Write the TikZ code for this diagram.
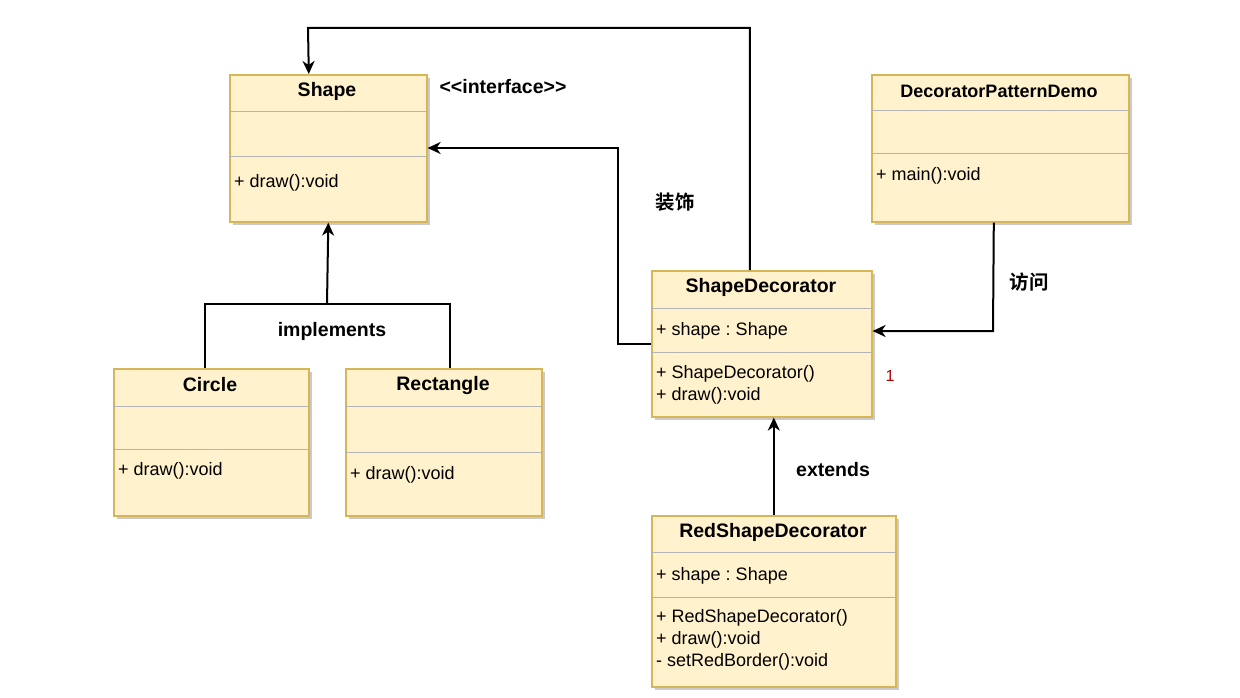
\documentclass[tikz,border=0pt]{standalone}
\usepackage{fontspec}
\setmainfont{Liberation Sans}
\newfontfamily\cjk{Noto Sans CJK SC}[BoldFont=* Bold]
\usetikzlibrary{arrows.meta,shadows}
\frenchspacing
\definecolor{boxfill}{HTML}{FFF2CC}
\definecolor{boxline}{HTML}{D6B656}
\definecolor{sepline}{HTML}{B3B3B3}
\definecolor{mulred}{HTML}{B20000}
\tikzset{
  cls/.style={draw=boxline, fill=boxfill, line width=1.6pt, anchor=north west, inner sep=0pt,
    drop shadow={shadow xshift=3pt, shadow yshift=-3pt, opacity=.35, fill=black!60}},
  ttl/.style={font=\fontsize{19.5}{22}\selectfont\bfseries, inner sep=0pt},
  mem/.style={font=\fontsize{18}{21}\selectfont\frenchspacing, anchor=west, inner sep=0pt},
  sepl/.style={draw=sepline, line width=1pt},
  conn/.style={line width=2pt, draw=black},
  arr/.style={conn, -{Stealth[length=13pt, width=12pt, inset=4pt]}},
  lbl/.style={font=\fontsize{19.5}{22}\selectfont\bfseries, inner sep=0pt},
}
\begin{document}
\begin{tikzpicture}[x=1pt, y=-1pt]
\useasboundingbox (0,0) rectangle (1240,698);
% Shape
\node[cls, minimum width=197pt, minimum height=147pt] (shape) at (229,74) {};
\draw[sepl] (229,112) -- (426,112);
\draw[sepl] (229,157) -- (426,157);
\node[ttl] (shapeT) at (327,91) {Shape};
\node[mem] (shapeM) at (234,183) {+ draw():void};
% Circle
\node[cls, minimum width=195pt, minimum height=147pt] (circle) at (113,368) {};
\draw[sepl] (113,406) -- (308,406);
\draw[sepl] (113,449) -- (308,449);
\node[ttl] (circleT) at (210,385) {Circle};
\node[mem] (circleM) at (118,471) {+ draw():void};
% Rectangle
\node[cls, minimum width=196pt, minimum height=147pt] (rect) at (345,368) {};
\draw[sepl] (345,406) -- (541,406);
\draw[sepl] (345,452) -- (541,452);
\node[ttl] (rectT) at (443,385) {Rectangle};
\node[mem] (rectM) at (350,475) {+ draw():void};
% ShapeDecorator
\node[cls, minimum width=220pt, minimum height=146pt] (sd) at (651,270) {};
\draw[sepl] (651,308) -- (871,308);
\draw[sepl] (651,352) -- (871,352);
\node[ttl] (sdT) at (761,287) {ShapeDecorator};
\node[mem] (sdA) at (656,331) {+ shape : Shape};
\node[mem] (sdM1) at (656,374) {+ ShapeDecorator()};
\node[mem] (sdM2) at (656,396) {+ draw():void};
% RedShapeDecorator
\node[cls, minimum width=244pt, minimum height=171pt] (rsd) at (651,515) {};
\draw[sepl] (651,552) -- (895,552);
\draw[sepl] (651,597) -- (895,597);
\node[ttl] (rsdT) at (773,532) {RedShapeDecorator};
\node[mem] (rsdA) at (656,576) {+ shape : Shape};
\node[mem] (rsdM1) at (656,618) {+ RedShapeDecorator()};
\node[mem] (rsdM2) at (656,640) {+ draw():void};
\node[mem] (rsdM3) at (656,662) {- setRedBorder():void};
% DecoratorPatternDemo
\node[cls, minimum width=257pt, minimum height=147pt] (demo) at (871,74) {};
\draw[sepl] (871,111) -- (1128,111);
\draw[sepl] (871,154) -- (1128,154);
\node[ttl, font=\fontsize{18}{21}\selectfont\bfseries] (demoT) at (999,91) {DecoratorPatternDemo};
\node[mem] (demoM) at (876,176) {+ main():void};
% connectors
\coordinate (j) at (327,304);
\draw[conn] ([xshift=-6.5pt]circle.north) |- (j) -| ([xshift=6pt]rect.north);
\draw[arr] (j) -- (shape.south);
\coordinate (t) at (308,28);
\draw[arr] ([xshift=-12pt]sd.north) |- (t) -- ([xshift=-19.5pt]shape.north);
\coordinate (c2) at (618,148);
\draw[arr] (sd.west) -| (c2) -- (c2 -| shape.east);
\coordinate (c3) at (993,331);
\draw[arr] ([xshift=-6.5pt]demo.south) -- (c3) -- (c3 -| sd.east);
\draw[arr] (rsd.north) -- (rsd.north |- sd.south);
% labels
\node[lbl] (impl) at (332,331) {implements};
\node[lbl] (intf) at (503,87) {<{}<interface>{}>};
\node[lbl, font=\fontsize{19.5}{22}\cjk\bfseries] (zs) at (675,202) {装饰};
\node[lbl, font=\fontsize{19.5}{22}\cjk\bfseries] (fw) at (1029,282) {访问};
\node[lbl] (ext) at (833,470) {extends};
\node[font=\fontsize{16}{19}\selectfont, text=mulred, inner sep=0pt] (mul) at (890,376) {1};
\end{tikzpicture}
\end{document}
